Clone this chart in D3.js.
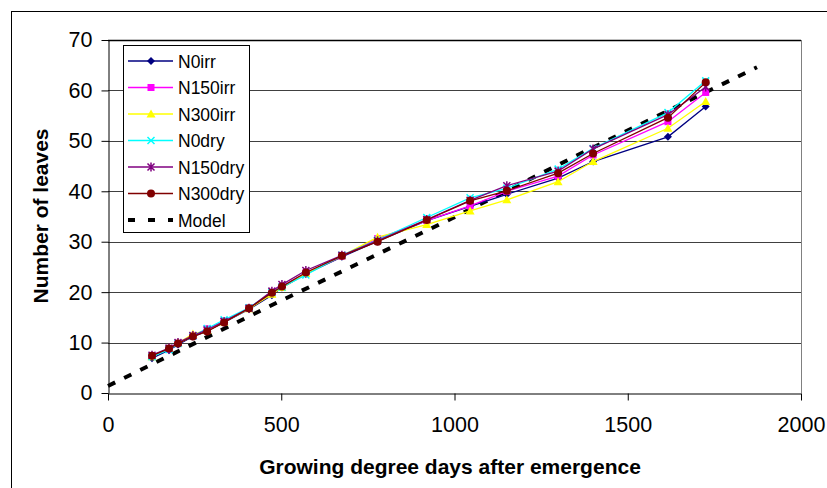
<!DOCTYPE html>
<html><head><meta charset="utf-8">
<script src="https://cdn.jsdelivr.net/npm/d3@7"></script>
<style>body{margin:0;background:#fff}svg{display:block}text{font-family:"Liberation Sans",Arial,sans-serif}</style>
</head><body><div id="chart"></div>
<script>
const gdd = [127,176,202,245,286,335,407,473,502,571,675,778,920,1045,1151,1299,1400,1616,1725];
const N0irr   = [6.9,8.5,9.6,11.2,12.3,14.0,16.6,19.4,20.9,23.6,27.0,30.1,34.2,37.0,39.4,42.6,45.9,50.8,56.8];
const N150irr = [7.3,8.7,9.8,11.3,12.7,14.2,16.8,19.7,21.1,23.8,27.1,30.6,34.2,37.1,40.0,43.0,47.2,53.8,59.6];
const N300irr = [7.2,8.8,9.9,11.7,12.4,14.1,16.7,19.6,20.9,23.7,27.2,30.9,33.4,36.1,38.3,41.9,45.9,52.5,57.8];
const N0dry   = [7.2,8.6,9.8,11.3,12.8,14.5,16.9,20.0,21.0,23.4,27.3,30.3,34.8,38.7,40.6,44.4,48.5,55.6,61.9];
const N150dry = [7.5,8.9,10.0,11.4,12.5,14.2,16.8,20.2,21.5,24.3,27.3,30.2,34.4,38.2,41.1,44.0,48.4,55.2,60.7];
const N300dry = [7.4,8.8,9.8,11.2,12.2,14.0,16.8,19.9,21.1,23.9,27.2,30.0,34.3,38.1,40.1,43.6,47.5,54.6,61.6];
const modelX = [0,472,992,1353,1873];
const modelY = [1.4,17.4,34.6,47.1,64.6];
const seriesNames = ["N0irr","N150irr","N300irr","N0dry","N150dry","N300dry"];
const seriesValues = [N0irr,N150irr,N300irr,N0dry,N150dry,N300dry];
const seriesColors = ["#000080","#FF00FF","#FFFF00","#00FFFF","#800080","#800000"];
const seriesMarkers = ["diamond","square","triangle","x","star","circle"];
const xTicks = [0,500,1000,1500,2000];
const yTicks = [0,10,20,30,40,50,60,70];

const W=827,H=488;
const svg=d3.select("#chart").append("svg").attr("width",W).attr("height",H);
svg.append("rect").attr("x",11.5).attr("y",11.5).attr("width",840).attr("height",500).attr("fill","#fff").attr("stroke","#000").attr("stroke-width",1);

const x=d3.scaleLinear().domain([0,2000]).range([108,801]);
const y=d3.scaleLinear().domain([0,70]).range([393,40]);

// grid
svg.append("g").selectAll("line").data(yTicks.filter(d=>d>0)).join("line")
  .attr("x1",x(0)).attr("x2",x(2000)).attr("y1",d=>Math.round(y(d))+0.5).attr("y2",d=>Math.round(y(d))+0.5)
  .attr("stroke",d=>d===70?"#000":"#404040").attr("stroke-width",d=>d===70?1.5:1.2);
// right border
svg.append("line").attr("x1",x(2000)+0.5).attr("x2",x(2000)+0.5).attr("y1",y(70)).attr("y2",y(0)).attr("stroke","#808080");

// axes
const xa=svg.append("g").attr("transform",`translate(0,${Math.round(y(0))+0.5})`)
  .call(d3.axisBottom(x).tickValues(xTicks).tickSize(7).tickSizeOuter(0).tickPadding(16).tickFormat(d3.format("d")));
const ya=svg.append("g").attr("transform",`translate(${x(0)+0.5},0)`)
  .call(d3.axisLeft(y).tickValues(yTicks).tickSize(7).tickSizeOuter(0).tickPadding(9).tickFormat(d3.format("d")));
[xa,ya].forEach(a=>{a.select(".domain").attr("stroke","#000");a.selectAll(".tick line").attr("stroke","#000");
  a.selectAll("text").attr("font-size",21.5).attr("fill","#000").attr("font-family","'Liberation Sans',Arial,sans-serif");});

// titles
svg.append("text").attr("x",450).attr("y",474).attr("text-anchor","middle").attr("font-size",21).attr("font-weight","bold").text("Growing degree days after emergence");
svg.append("text").attr("transform","translate(48,216) rotate(-90)").attr("text-anchor","middle").attr("font-size",21).attr("font-weight","bold").text("Number of leaves");

// marker drawing
function marker(g,type,color,cx,cy){
  const s=4;
  if(type==="diamond") g.append("path").attr("d",`M${cx},${cy-s}L${cx+s},${cy}L${cx},${cy+s}L${cx-s},${cy}Z`).attr("fill",color);
  else if(type==="square") g.append("rect").attr("x",cx-3.5).attr("y",cy-3.5).attr("width",7).attr("height",7).attr("fill",color);
  else if(type==="triangle") g.append("path").attr("d",`M${cx},${cy-4.5}L${cx+4.5},${cy+3.5}L${cx-4.5},${cy+3.5}Z`).attr("fill",color);
  else if(type==="x") g.append("path").attr("d",`M${cx-3.5},${cy-3.5}L${cx+3.5},${cy+3.5}M${cx-3.5},${cy+3.5}L${cx+3.5},${cy-3.5}`).attr("stroke",color).attr("stroke-width",1.5);
  else if(type==="star") g.append("path").attr("d",`M${cx-3.5},${cy-3.5}L${cx+3.5},${cy+3.5}M${cx-3.5},${cy+3.5}L${cx+3.5},${cy-3.5}M${cx},${cy-4.5}L${cx},${cy+4.5}`).attr("stroke",color).attr("stroke-width",1.5);
  else if(type==="circle") g.append("circle").attr("cx",cx).attr("cy",cy).attr("r",4).attr("fill",color);
}

const line=d3.line().x(d=>x(d[0])).y(d=>y(d[1]));
// model
svg.append("path").attr("d",line(modelX.map((v,i)=>[v,modelY[i]]))).attr("fill","none")
  .attr("stroke","#000").attr("stroke-width",4).attr("stroke-dasharray","8,10");

seriesValues.forEach((vals,i)=>{
  const pts=gdd.map((g,j)=>[g,vals[j]]);
  const g=svg.append("g");
  g.append("path").attr("d",line(pts)).attr("fill","none").attr("stroke",seriesColors[i]).attr("stroke-width",1.3);
  pts.forEach(p=>marker(g,seriesMarkers[i],seriesColors[i],x(p[0]),y(p[1])));
});

// legend
const lg=svg.append("g");
lg.append("rect").attr("x",123.5).attr("y",45.5).attr("width",126).attr("height",187).attr("fill","#fff").attr("stroke","#000");
const legNames=seriesNames.concat(["Model"]);
legNames.forEach((n,i)=>{
  const yy=61+i*26.5;
  if(i<6){
    lg.append("line").attr("x1",128).attr("x2",173).attr("y1",yy).attr("y2",yy).attr("stroke",seriesColors[i]).attr("stroke-width",1.3);
    marker(lg,seriesMarkers[i],seriesColors[i],151,yy);
  } else {
    lg.append("line").attr("x1",128).attr("x2",173).attr("y1",yy).attr("y2",yy).attr("stroke","#000").attr("stroke-width",4).attr("stroke-dasharray","7,13");
  }
  lg.append("text").attr("x",178).attr("y",yy+6.5).attr("font-size",17.5).text(n);
});
</script></body></html>
